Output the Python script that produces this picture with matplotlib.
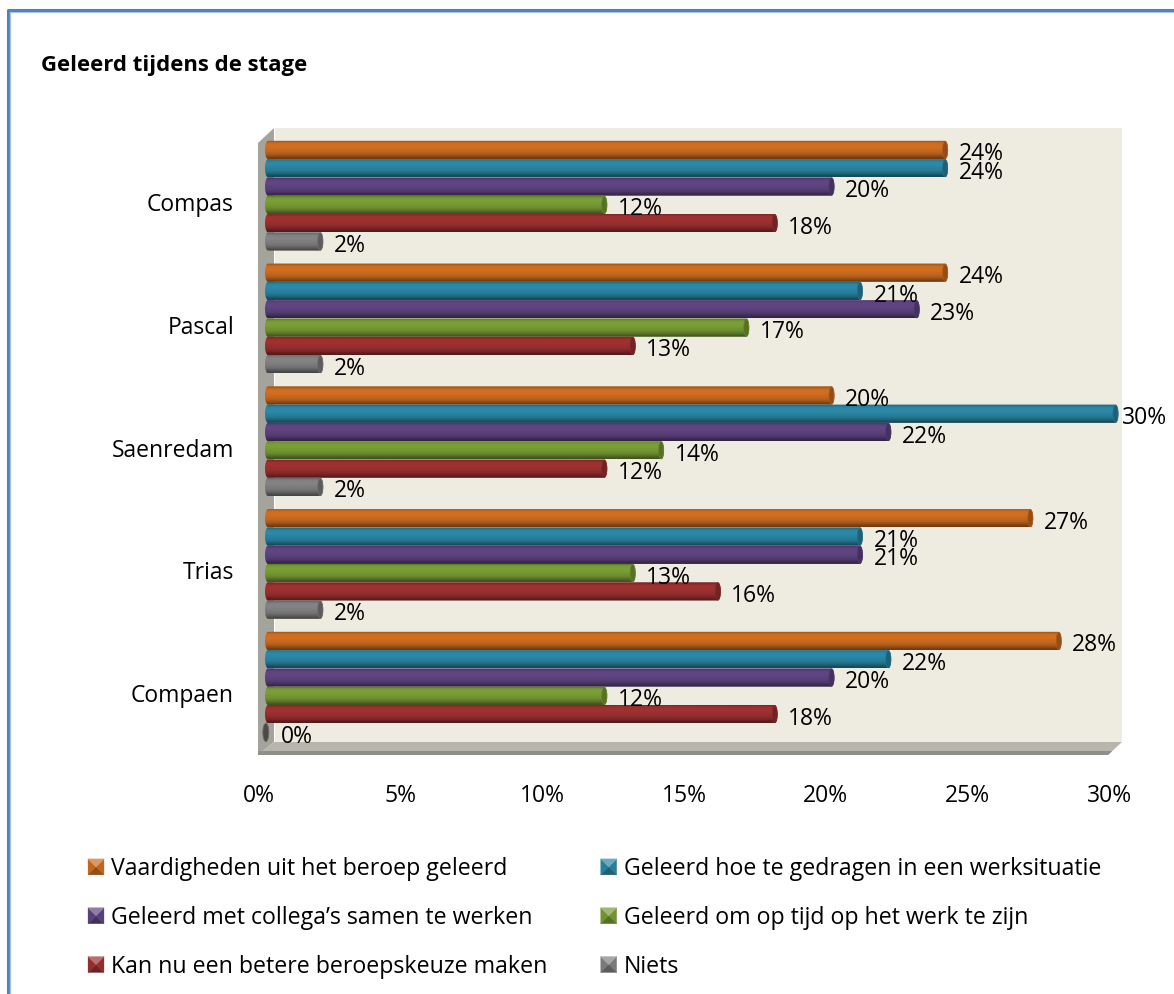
import numpy as np
import matplotlib
matplotlib.use("Agg")
import matplotlib.pyplot as plt
from matplotlib.patches import Polygon, Ellipse
from matplotlib.lines import Line2D
from matplotlib.transforms import Affine2D
from matplotlib.legend_handler import HandlerBase
from matplotlib.colors import to_rgb

plt.rcParams['font.family'] = ['Open Sans', 'DejaVu Sans']

W, H = 1174, 994

# ---- data ----
title = "Geleerd tijdens de stage"
schools = ["Compas", "Pascal", "Saenredam", "Trias", "Compaen"]
series_names = ["Vaardigheden uit het beroep geleerd",
                "Geleerd hoe te gedragen in een werksituatie",
                "Geleerd met collega\u2019s samen te werken",
                "Geleerd om op tijd op het werk te zijn",
                "Kan nu een betere beroepskeuze maken",
                "Niets"]
vaardigheden = [24, 24, 20, 27, 28]
gedragen = [24, 21, 30, 21, 22]
samenwerken = [20, 23, 22, 21, 20]
op_tijd = [12, 17, 14, 13, 12]
beroepskeuze = [18, 13, 12, 16, 18]
niets = [2, 2, 2, 2, 0]
series_values = [vaardigheden, gedragen, samenwerken, op_tijd, beroepskeuze, niets]
colors = ["#CC6C20", "#2A85A3", "#5E4380", "#779B35", "#9C3030", "#808080"]
xticks = [0, 5, 10, 15, 20, 25, 30]

FS = 16.5

# ---- layout helpers ----
fig = plt.figure(figsize=(W / 100, H / 100), dpi=100, facecolor="white")
px = Affine2D().scale(1 / W, -1 / H).translate(0, 1) + fig.transFigure


def ax_rect(x0, y0, x1, y1):
    return [x0 / W, 1 - y1 / H, (x1 - x0) / W, (y1 - y0) / H]


def shade(c, f):
    c = np.array(to_rgb(c))
    return tuple(np.clip(c * f, 0, 1)) if f <= 1 else tuple(c + (1 - c) * (f - 1))


# frame
fig.add_artist(Line2D([8, 8, W + 5], [H + 5, 10, 10], transform=px, color="#4F81BD", lw=2.2, zorder=0))
fig.add_artist(Line2D([10, 10], [12, H], transform=px, color="#A9C4E6", lw=1.0, zorder=0))
fig.add_artist(Line2D([10, W], [12, 12], transform=px, color="#A9C4E6", lw=0.8, zorder=0))

# 3D walls
fig.add_artist(Polygon([[275, 128], [1122, 128], [1122, 742], [275, 742]], transform=px,
                       fc="#EEEBE0", ec="none", zorder=0))
fig.add_artist(Polygon([[258, 143], [274, 128], [274, 742], [258, 755]], transform=px,
                       fc="#A5A49C", ec="none", zorder=0))
fig.add_artist(Polygon([[258, 755], [274, 742], [1122, 742], [1108, 755]], transform=px,
                       fc="#B8B5AD", ec="none", zorder=0))
fig.add_artist(Polygon([[258, 751], [1112, 751], [1108, 755], [258, 755]], transform=px,
                       fc="#8F8E88", ec="none", zorder=0))

# ---- bars ----
ax = fig.add_axes(ax_rect(258, 128, 1122, 755))
ax.patch.set_alpha(0)
PX_PER_PCT = 28.4
GROUP = 122.75
xlim = (-7 / PX_PER_PCT, 857 / PX_PER_PCT)
ylim = ((755 - 195.7) / GROUP, (128 - 195.7) / GROUP)
ax.axis("off")

bar_h = 18.3 / GROUP
step = 18.3 / GROUP
cap_w = 3.0 / PX_PER_PCT
grad = np.array([0.80, 1.0, 1.03, 1.02, 0.98, 0.94, 0.86, 0.72, 0.55]).reshape(-1, 1)
t = np.linspace(-np.pi / 2, np.pi / 2, 24)

for s, (vals, col) in enumerate(zip(series_values, colors)):
    ys = np.arange(len(schools)) + (s - 2.5) * step
    bars = ax.barh(ys, vals, height=bar_h, color=col, linewidth=0, zorder=2 + s * 0.01)
    rgb = np.array(to_rgb(col))
    img = np.clip(rgb[None, None, :] * grad[:, :, None], 0, 1)
    for y, v, b in zip(ys, vals, bars):
        b.set_visible(False)
        if v == 0:
            ax.add_patch(Ellipse((0.03, y), 2 * cap_w, bar_h, fc="#4A4A48", ec="#6B6B68",
                                 lw=0.6, zorder=3))
        else:
            right = v - cap_w * 0.5
            xs = np.r_[right + cap_w * np.cos(t), cap_w - cap_w * np.cos(t)[::-1]]
            yy = np.r_[y + bar_h / 2 * np.sin(t), y + bar_h / 2 * np.sin(t)[::-1]]
            clip = Polygon(np.c_[xs, yy], transform=ax.transData, fc="none", ec="none")
            ax.add_patch(clip)
            im = ax.imshow(img, extent=(0, right + cap_w, y + bar_h / 2, y - bar_h / 2),
                           aspect="auto", interpolation="bilinear", zorder=2 + s * 0.01)
            im.set_clip_path(clip)
            ax.add_patch(Ellipse((right, y), 2 * cap_w * 0.85, bar_h * 0.94,
                                 fc=shade(col, 0.72), ec=shade(col, 0.85), lw=0.5, zorder=3))
        off = 16 if v == 0 else (5 if v >= 30 else 12)
        ax.annotate(f"{v}%", xy=(v, y), xytext=(off * 0.72, -4.5 * 0.72),
                    textcoords="offset points", ha="left", va="center",
                    fontsize=FS, color="black", zorder=6, annotation_clip=False)

ax.set_xlim(*xlim)
ax.set_ylim(*ylim)

# category labels
for i, name in enumerate(schools):
    ax.annotate(name, xy=(0, i), xytext=(-31 * 0.72, -9.5 * 0.72), textcoords="offset points",
                ha="right", va="center", fontsize=FS, color="black", annotation_clip=False)

# ---- value axis (front edge of the floor) ----
ax2 = fig.add_axes(ax_rect(259, 740, 1109, 755))
ax2.patch.set_alpha(0)
ax2.set_xlim(0, 30)
ax2.set_ylim(0, 1)
ax2.set_yticks([])
ax2.set_xticks(xticks)
ax2.set_xticklabels([f"{v}%" for v in xticks], fontsize=FS)
ax2.tick_params(axis="x", length=0, pad=21)
for sp in ax2.spines.values():
    sp.set_visible(False)

# title
fig.text(41 / W, 1 - 66 / H, title, fontsize=15.9, fontweight="bold", va="center", ha="left", color="black")


# ---- legend ----
class Pyramid:
    def __init__(self, color):
        self.color = color


class PyramidHandler(HandlerBase):
    def create_artists(self, legend, orig, xd, yd, w, h, fs, trans):
        c = orig.color
        s = 16 * 0.72
        x0, y0 = -xd + (w - s) / 2, -yd + (h - s) / 2
        m = s * 0.5
        a = [x0, y0]
        b = [x0 + s, y0]
        cc = [x0 + s, y0 + s]
        d = [x0, y0 + s]
        o = [x0 + m, y0 + m]
        arts = []
        for pts, f in (([a, d, o], 0.95), ([b, cc, o], 0.95), ([a, b, o], 0.72), ([d, cc, o], 1.3)):
            fc = shade(c, f)
            arts.append(Polygon(pts, fc=fc, ec=fc, lw=0.2, transform=trans))
        return arts


order = [0, 2, 4, 1, 3, 5]  # the legend fills column by column; the reference reads row by row
handles = [Pyramid(colors[i]) for i in order]
labels = [series_names[i] for i in order]
leg = fig.legend(handles, labels, ncol=2, handler_map={Pyramid: PyramidHandler()},
                 loc="upper left", bbox_to_anchor=(88 / W, 1 - 857 / H),
                 frameon=False, fontsize=16.7, handlelength=0.69, handletextpad=0.3,
                 labelspacing=1.07, columnspacing=2.3, borderpad=0, borderaxespad=0)

fig.savefig("out.png", dpi=100, facecolor="white")
